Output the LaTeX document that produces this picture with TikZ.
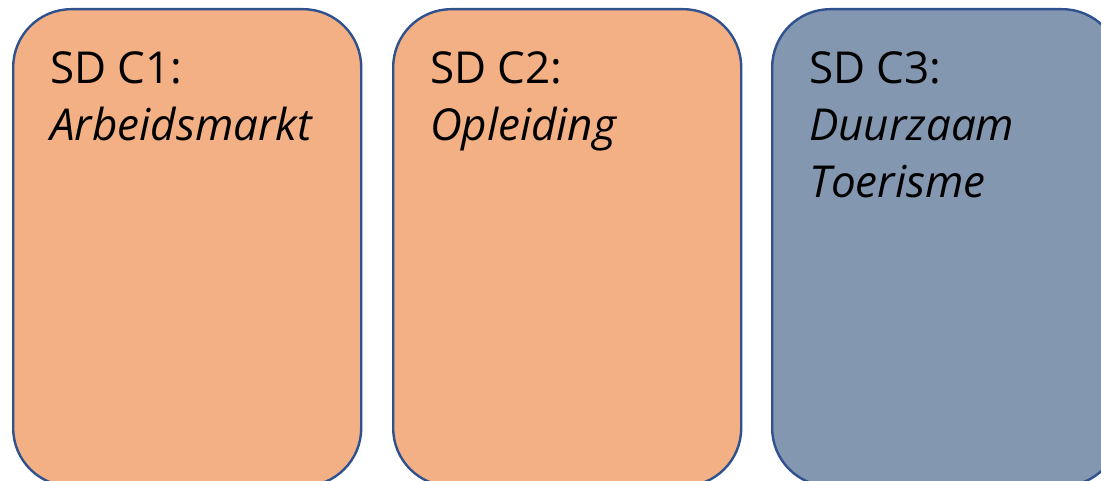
\documentclass[tikz,border=0pt]{standalone}
\usepackage{fontspec}
\setmainfont{Open Sans}
\definecolor{peach}{RGB}{243,176,132}
\definecolor{slate}{RGB}{132,151,176}
\definecolor{rim}{RGB}{47,82,143}
\begin{document}
\begin{tikzpicture}
  [x=1pt,y=-1pt,
   every node/.style={inner sep=0pt},
   card/.style={draw=rim,line width=2.4pt,rounded corners=58pt,
     anchor=north west,minimum width=348pt,minimum height=477pt},
   0/.style={fill=peach},
   1/.style={fill=slate},
   title/.style={anchor=north west,align=left,font=\fontsize{44}{57}\selectfont}]

  \useasboundingbox (0,0) rectangle (1101,481);
  \clip (0,0) rectangle (1101,481);

  \node[card,0] (C1) at (12,8) {};
  \node[card,0] (C2) at (392,8) {};
  \node[card,1] (C3) at (771,8) {};

  \node[title] (T1) at (50,51) {SD C1:\\\textit{Arbeidsmarkt}};
  \node[title] (T2) at (430,51) {SD C2:\\\textit{Opleiding}};
  \node[title] (T3) at (809,51) {SD C3:\\\textit{Duurzaam}\\\textit{Toerisme}};
\end{tikzpicture}
\end{document}
